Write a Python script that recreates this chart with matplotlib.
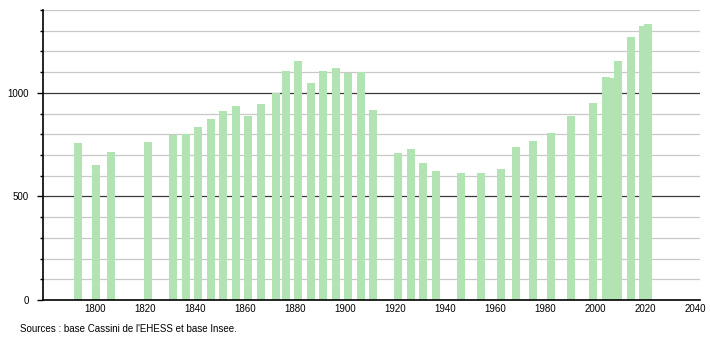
import numpy as np
import matplotlib.pyplot as plt

plt.rcParams['font.family'] = ['Liberation Sans', 'DejaVu Sans']

# census years and population
years = [1793, 1800, 1806, 1821, 1831, 1836, 1841, 1846, 1851, 1856, 1861, 1866,
         1872, 1876, 1881, 1886, 1891, 1896, 1901, 1906, 1911, 1921, 1926, 1931,
         1936, 1946, 1954, 1962, 1968, 1975, 1982, 1990, 1999, 2004, 2006, 2009,
         2014, 2019, 2021]
population = [760, 652, 715, 763, 795, 802, 836, 873, 913, 937, 886, 947,
              998, 1106, 1155, 1048, 1106, 1122, 1095, 1103, 918, 710, 729, 660,
              621, 615, 615, 633, 739, 768, 807, 889, 950, 1076, 1072, 1155,
              1270, 1324, 1333]
xticks = list(range(1800, 2041, 20))
yticks = [0, 500, 1000]

fig = plt.figure(figsize=(7.1, 3.4), dpi=100)
ax = fig.add_axes([43 / 710, 40 / 340, 657 / 710, 290 / 340])

# grid: light every 100, dark every 500
for v in range(100, 1401, 100):
    if v % 500 == 0:
        ax.axhline(v, color='#3a3a3a', lw=0.9, zorder=1)
    else:
        ax.axhline(v, color='#c8c8c8', lw=0.9, zorder=1)

ax.bar(years, population, width=3.2, color='#b2e3b2', zorder=2)

ax.set_xlim(1779, 2041.8)
ax.set_ylim(0, 1400)

ax.spines['top'].set_visible(False)
ax.spines['right'].set_visible(False)
ax.spines['left'].set_linewidth(1.2)
ax.spines['bottom'].set_linewidth(1.2)

ax.set_yticks(yticks)
ax.set_yticks(np.arange(0, 1401, 100), minor=True)
ax.tick_params(axis='y', which='major', length=4, width=1, labelsize=7, pad=6)
ax.tick_params(axis='y', which='minor', length=2, width=1)
ax.set_xticks(xticks)
ax.set_xticklabels([str(x) for x in xticks])
ax.tick_params(axis='x', length=0, labelsize=7, pad=3)

fig.text(20 / 710, 1 - 329 / 340, "Sources : base Cassini de l'EHESS et base Insee.",
         fontsize=7, va='center', ha='left')

fig.savefig('out.png', dpi=100)
